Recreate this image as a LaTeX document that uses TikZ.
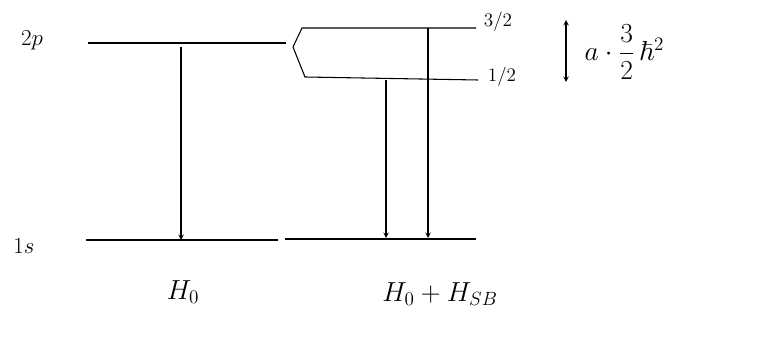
\documentclass[tikz,border=0pt]{standalone}
\usepackage{amsmath,amssymb}
\usetikzlibrary{positioning,arrows}

\begin{document}
\begin{tikzpicture}[x=0.02646cm,y=-0.02646cm,level/.style={thick},trans/.style={thick,->,>=stealth}]
\useasboundingbox (0,0) rectangle (759,342);
% levels without spin-orbit
\coordinate (pA) at (88,43); \coordinate (pB) at (286,43);
\coordinate (sA) at (86,240); \coordinate (sB) at (278,240);
\draw[level] (pA) -- (pB);
\draw[level] (sA) -- (sB);
\node (lp) at (32,40) {\LARGE $2p$};
\node (ls) at (24,246) {\LARGE $1s$};
% split levels
\coordinate (fork) at (293,47);
\coordinate (tA) at (302,28); \coordinate (tB) at (476,28);
\coordinate (hA) at (305,77); \coordinate (hB) at (478,80);
\coordinate (gA) at (285,239); \coordinate (gB) at (476,239);
\draw[level] (fork) -- (tA) -- (tB);
\draw[level] (fork) -- (hA) -- (hB);
\draw[level] (gA) -- (gB);
\node (l32) at (498,22) {\Large $3/2$};
\node (l12) at (502,77) {\Large $1/2$};
% transitions
\draw[trans] (181,47) -- (181,240);
\draw[trans] (386,80) -- (386,238);
\draw[trans] (428,28) -- (428,238);
% splitting
\draw[thick,<->,>=stealth] (566,20) -- (566,82);
\node[right] (split) at (580,52) {\huge $a\cdot\dfrac{3}{2}\,\hbar^{2}$};
% labels
\node (h0) at (183,292) {\huge $H_0$};
\node (h1) at (440,294) {\huge $H_0+H_{SB}$};
\end{tikzpicture}
\end{document}
